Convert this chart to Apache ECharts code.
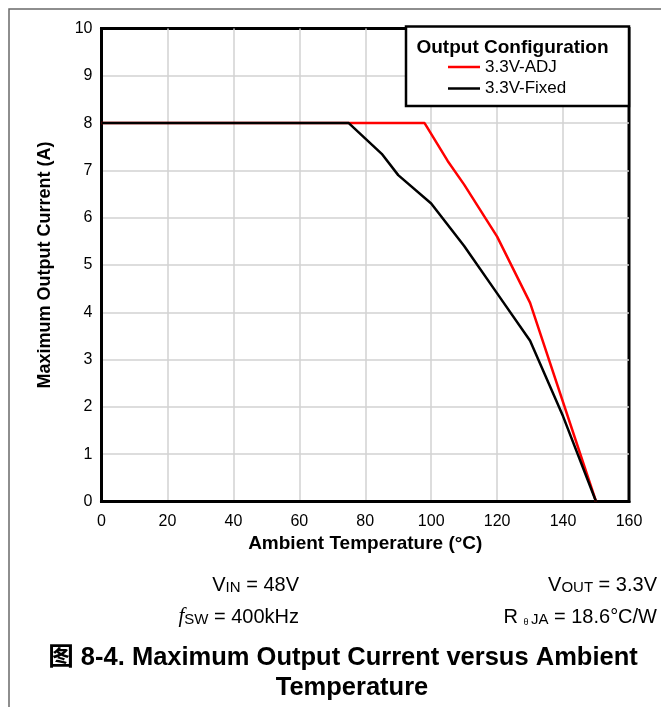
<!DOCTYPE html>
<html>
<head>
<meta charset="utf-8">
<script src="https://cdn.jsdelivr.net/npm/echarts@6/dist/echarts.min.js"></script>
<style>
html,body{margin:0;padding:0;background:#fff;}
#chart{width:661px;height:707px;}
</style>
</head>
<body>
<div id="chart"></div>
<script>
// ---- data ----
const seriesNames = ['3.3V-ADJ', '3.3V-Fixed'];
const tempAdj = [0, 98, 105, 110, 120, 130, 150];
const currentAdj = [8, 8, 7.2, 6.7, 5.6, 4.2, 0];
const tempFixed = [0, 75, 85, 90, 100, 110, 120, 130, 140, 150];
const currentFixed = [8, 8, 7.35, 6.9, 6.3, 5.4, 4.4, 3.4, 1.8, 0];
const xTicks = [0, 20, 40, 60, 80, 100, 120, 140, 160];
const yTicks = [0, 1, 2, 3, 4, 5, 6, 7, 8, 9, 10];
const xTitle = 'Ambient Temperature (°C)';
const yTitle = 'Maximum Output Current (A)';
const legendTitle = 'Output Configuration';
const captionLine1 = '图 8-4. Maximum Output Current versus Ambient';
const captionLine2 = 'Temperature';

const FONT = "'Liberation Sans', Arial, 'Noto Sans CJK SC', sans-serif";
const chart = echarts.init(document.getElementById('chart'), null, {renderer: 'canvas'});

const pairs = (xs, ys) => xs.map((x, i) => [x, ys[i]]);

const mainTxt = {fontFamily: FONT, fontSize: 20, lineHeight: 22, verticalAlign: 'bottom', fill: '#000'};
const subTxt = {fontFamily: FONT, fontSize: 15, lineHeight: 10, verticalAlign: 'bottom', fill: '#000'};

const option = {
  backgroundColor: '#fff',
  animation: false,
  grid: {
    left: 101.5, right: 32, top: 28.5, bottom: 205.5,
    show: true, borderColor: '#000', borderWidth: 3, backgroundColor: 'transparent'
  },
  xAxis: {
    type: 'value',
    min: xTicks[0], max: xTicks[xTicks.length - 1], interval: xTicks[1] - xTicks[0],
    name: xTitle, nameLocation: 'middle', nameGap: 31,
    nameTextStyle: {fontFamily: FONT, fontWeight: 'bold', fontSize: 19, color: '#000'},
    axisLine: {show: true, lineStyle: {color: '#000', width: 3}},
    axisTick: {show: false},
    axisLabel: {fontFamily: FONT, fontSize: 16, color: '#000', margin: 12},
    splitLine: {show: true, showMinLine: false, showMaxLine: false, lineStyle: {color: '#d2d2d2', width: 1.5}}
  },
  yAxis: {
    type: 'value',
    min: yTicks[0], max: yTicks[yTicks.length - 1], interval: yTicks[1] - yTicks[0],
    name: yTitle, nameLocation: 'middle', nameGap: 47, nameRotate: 90,
    nameTextStyle: {fontFamily: FONT, fontWeight: 'bold', fontSize: 18, color: '#000'},
    axisLine: {show: true, lineStyle: {color: '#000', width: 3}},
    axisTick: {show: false},
    axisLabel: {fontFamily: FONT, fontSize: 16, color: '#000', margin: 9},
    splitLine: {show: true, showMinLine: false, showMaxLine: false, lineStyle: {color: '#d2d2d2', width: 1.5}}
  },
  legend: {
    z: 120,
    orient: 'vertical',
    left: 448, top: 58,
    icon: 'rect',
    itemWidth: 32, itemHeight: 2.5, itemGap: 3.5,
    padding: 0,
    textStyle: {fontFamily: FONT, fontSize: 17, color: '#000', lineHeight: 18},
    data: seriesNames
  },
  series: [
    {
      name: seriesNames[0], type: 'line', data: pairs(tempAdj, currentAdj),
      symbol: 'none', color: '#ff0000', lineStyle: {color: '#ff0000', width: 2.5}, z: 3
    },
    {
      name: seriesNames[1], type: 'line', data: pairs(tempFixed, currentFixed),
      symbol: 'none', color: '#000000', lineStyle: {color: '#000000', width: 2.5}, z: 4
    }
  ],
  graphic: [
    {type: 'rect', z: 1, silent: true,
     shape: {x: 9, y: 9, width: 720, height: 760},
     style: {fill: null, stroke: '#6a6a6a', lineWidth: 1.5}},
    {type: 'rect', z: 100, silent: true,
     shape: {x: 406, y: 26.5, width: 223, height: 79.5},
     style: {fill: '#fff', stroke: '#000', lineWidth: 2.5}},
    {type: 'text', z: 110, silent: true, x: 512.5, y: 48,
     style: {text: legendTitle, font: "bold 19px " + FONT, fill: '#000', textAlign: 'center', textVerticalAlign: 'middle'}},
    {type: 'text', z: 110, silent: true, x: 299, y: 584,
     style: {
       text: '{a|V}{s|IN}{a| = 48V}', textAlign: 'right', textVerticalAlign: 'middle',
       rich: {a: mainTxt, s: subTxt}
     }},
    {type: 'text', z: 110, silent: true, x: 299, y: 616,
     style: {
       text: '{f|f}{s|SW}{a| = 400kHz}', textAlign: 'right', textVerticalAlign: 'middle',
       rich: {
         f: {fontFamily: "'Liberation Serif', 'Times New Roman', serif", fontStyle: 'italic', fontSize: 21, lineHeight: 22, verticalAlign: 'bottom', fill: '#000'},
         a: mainTxt, s: subTxt
       }
     }},
    {type: 'text', z: 110, silent: true, x: 657, y: 584,
     style: {
       text: '{a|V}{s|OUT}{a| = 3.3V}', textAlign: 'right', textVerticalAlign: 'middle',
       rich: {a: mainTxt, s: subTxt}
     }},
    {type: 'text', z: 110, silent: true, x: 657, y: 616,
     style: {
       text: '{a|R }{t|θ }{s|JA}{a| = 18.6°C/W}', textAlign: 'right', textVerticalAlign: 'middle',
       rich: {
         a: mainTxt,
         t: {fontFamily: FONT, fontSize: 9, lineHeight: 12, verticalAlign: 'bottom', fill: '#000'},
         s: subTxt
       }
     }},
    {type: 'text', z: 110, silent: true, x: 343, y: 658,
     style: {text: captionLine1, font: "bold 25.5px " + FONT, fill: '#000', textAlign: 'center', textVerticalAlign: 'middle'}},
    {type: 'text', z: 110, silent: true, x: 352, y: 688,
     style: {text: captionLine2, font: "bold 25.5px " + FONT, fill: '#000', textAlign: 'center', textVerticalAlign: 'middle'}}
  ]
};
chart.setOption(option);
</script>
</body>
</html>
